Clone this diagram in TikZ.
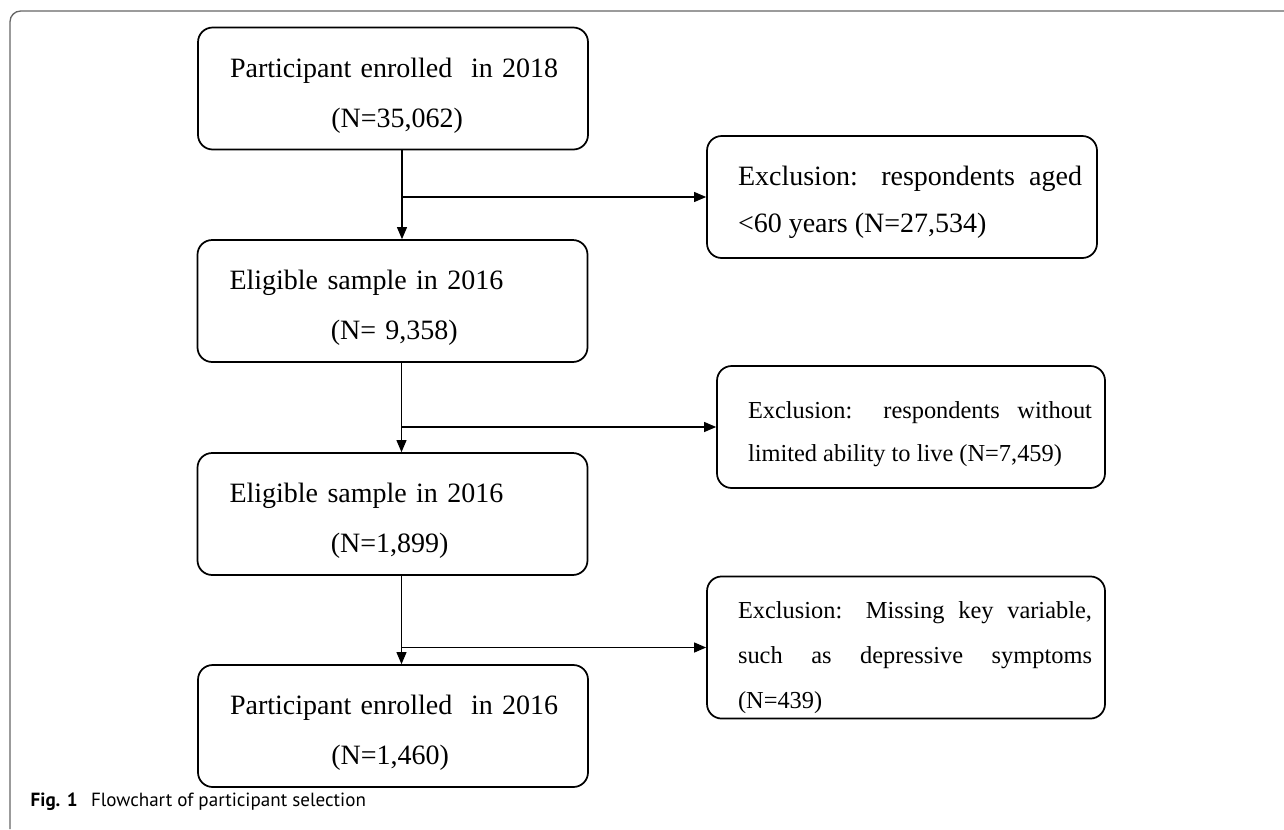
\documentclass[tikz,border=0pt]{standalone}
\usepackage{fontspec}
\setmainfont{Liberation Serif}
\newfontfamily\capfont{PT Sans}
\usetikzlibrary{arrows.meta}
\def\upgap#1{\rule{0pt}{#1}}

\tikzset{
  stagebox/.style={draw, line width=1.3pt, rounded corners=11pt,
    minimum width=292.5pt, minimum height=91.5pt, inner xsep=12pt,
    text width=268.5pt, align=left, font=\fontsize{21}{37.5}\selectfont},
  exclbox/.style={draw, line width=1.3pt, rounded corners=11pt,
    minimum height=91.5pt, align=justify},
  flow/.style={-{Triangle[length=9pt,width=7.5pt]}, line width=0.8pt},
}

\begin{document}
\begin{tikzpicture}[x=0.75pt,y=-0.75pt]
    \useasboundingbox (0,0) rectangle (1284,829);
    % Frame
    \draw[black!60, line width=1pt, rounded corners=8pt] (1284,11) -- (10,11) -- (10,829);
    % Main stages
    \node[stagebox] (b1) at (393,88.5) {\upgap{25pt}\hspace*{12pt}Participant enrolled\ \ in 2018\\\hspace*{88pt}(N=35,062)};
    \node[stagebox] (b2) at (392.5,301) {\upgap{25pt}\hspace*{12pt}Eligible sample in 2016\\\hspace*{88pt}(N= 9,358)};
    \node[stagebox] (b3) at (392.5,514) {\upgap{25pt}\hspace*{12pt}Eligible sample in 2016\\\hspace*{88pt}(N=1,899)};
    \node[stagebox] (b4) at (393,726) {\upgap{25pt}\hspace*{12pt}Participant enrolled\ \ in 2016\\\hspace*{88pt}(N=1,460)};
    % Exclusions
    \node[exclbox, inner xsep=11.25pt, text width=270pt, font=\fontsize{21}{35}\selectfont] (r1) at (902,197)
      {\leftskip=12pt \upgap{23pt}Exclusion: respondents aged\linebreak <60 years (N=27,534)\par};
    \node[exclbox, inner xsep=9.75pt, text width=271.5pt, font=\fontsize{18.3}{32}\selectfont] (r2) at (911,427)
      {\leftskip=13.5pt \upgap{23pt}Exclusion: respondents without\linebreak limited ability to live (N=7,459)\par};
    \node[exclbox, inner xsep=9.75pt, text width=279pt, minimum height=105.75pt, font=\fontsize{18.3}{34}\selectfont] (r3) at (906,647.5)
      {\leftskip=13.5pt \upgap{28pt}Exclusion: Missing key variable,\linebreak such as depressive symptoms\linebreak (N=439)\par};
    % Connectors
    \coordinate (s1) at ([xshift=6.75pt]b1.south);
    \coordinate (s2) at ([xshift=6.75pt]b2.south);
    \coordinate (s3) at ([xshift=6.75pt]b3.south);
    \draw[flow] (s1) -- (s1 |- b2.north);
    \draw[flow] (s1) |- (r1.west);
    \draw[flow] (s2) -- (s2 |- b3.north);
    \draw[flow] (s2) |- (r2.west);
    \draw[flow] (s3) -- (s3 |- b4.north);
    \draw[flow] (s3) |- (r3.west);
    % Caption
    \node[anchor=base west, font=\capfont\fontsize{14.3}{17}\selectfont] (cap) at (26,806)
      {\textbf{Fig. 1}\hspace{10pt}Flowchart of participant selection};
\end{tikzpicture}
\end{document}
